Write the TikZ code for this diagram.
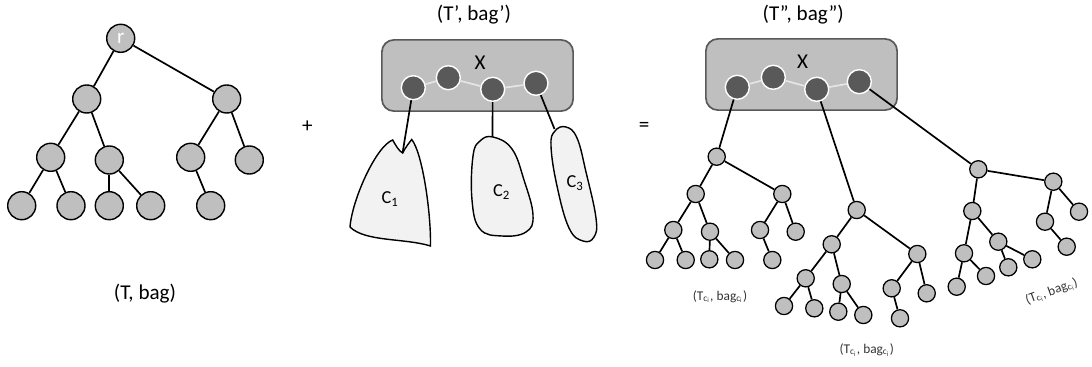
\documentclass[tikz,border=0pt]{standalone}
\usepackage{fontspec}
\setmainfont{Carlito}
\definecolor{nodegray}{HTML}{BFBFBF}
\definecolor{darkfill}{HTML}{595959}
\definecolor{blobfill}{HTML}{F2F2F2}

\begin{document}
\begin{tikzpicture}
        [x=0.025cm,y=-0.025cm,
        bnode/.style={circle,draw,line width=1pt,fill=nodegray,minimum size=0.7cm,inner sep=0pt},
        snode/.style={circle,draw,line width=0.9pt,fill=nodegray,minimum size=0.43cm,inner sep=0pt},
        xnode/.style={circle,draw=white,line width=1pt,fill=darkfill,minimum size=0.6cm,inner sep=0pt},
        bagbox/.style={rectangle,rounded corners=0.3cm,draw=darkfill,line width=1.2pt,fill=nodegray,minimum width=4.78cm,minimum height=1.78cm},
        blob/.style={draw,line width=1pt,fill=blobfill},
        branch/.style={line width=1.2pt},
        link/.style={line width=1.2pt,draw=white!90!black},
        lbl/.style={font=\fontsize{15}{18}\selectfont},
        clbl/.style={font=\fontsize{13}{15}\selectfont},
        slbl/.style={font=\fontsize{9.5}{11}\selectfont,text=black!80}]
        \useasboundingbox (0,0) rectangle (1092,367);

        % (T, bag)
        \node[bnode,text=white,lbl] (l0) at (120.7,38.3) {r};
        \node[bnode] (la1) at (86.7,99) {};
        \node[bnode] (la2) at (226.7,99) {};
        \node[bnode] (lb1) at (50.7,157.3) {};
        \node[bnode] (lb2) at (109.3,160) {};
        \node[bnode] (lb3) at (190.7,157.3) {};
        \node[bnode] (lb4) at (249.3,160) {};
        \node[bnode] (lc1) at (21.7,205.7) {};
        \node[bnode] (lc2) at (71,205.7) {};
        \node[bnode] (lc3) at (109.3,205.7) {};
        \node[bnode] (lc4) at (150.7,205.7) {};
        \node[bnode] (lc5) at (210.7,205.7) {};
        \node[lbl] (tbag) at (145,294) {(T, bag)};

        \node[lbl] (plus) at (307.3,126.7) {+};
        \node[lbl] (equal) at (644,126.7) {=};

        % (T', bag')
        \node[lbl] (tbag1) at (474,15) {(T', bag')};
        \node[bagbox] (box1) at (477.5,75.5) {};
        \node[lbl] (xa) at (480,62.7) {X};
        \node[xnode] (x1) at (413.3,87.7) {};
        \node[xnode] (x2) at (448.3,77.7) {};
        \node[xnode] (x3) at (492.7,89.3) {};
        \node[xnode] (x4) at (536,83.3) {};
        \draw[link] (x1) -- (x2);
        \draw[link] (x2) -- (x3);
        \draw[link] (x3) -- (x4);

        \draw[blob] (402.7,153) .. controls (405,148) and (409,143) .. (411.7,139.5)
            .. controls (422,152) and (431,210) .. (430.5,246)
            .. controls (405,238) and (365,242) .. (350,227)
            .. controls (352,200) and (376,146) .. (392.7,140)
            .. controls (396,146) and (399,151) .. (402.7,153) -- cycle;
        \draw[blob] plot[smooth cycle,tension=0.7] coordinates {(493,137) (512,149) (524,180) (533,215) (526,232) (502,236) (480,229) (472,200) (473,156) (480,141)};
        \draw[blob] plot[smooth cycle,tension=0.7] coordinates {(566,127) (577,138) (586,172) (596,218) (594,237) (583,241) (569,228) (557,186) (551,146) (555,131)};
        \coordinate (k1) at (402.7,152);
        \coordinate (k2) at (492.5,137);
        \coordinate (k3) at (554.5,129);
        \draw[branch] (x1) -- (k1);
        \draw[branch] (x3) -- (k2);
        \draw[branch] (x4) -- (k3);
        \node[clbl] (cl1) at (390,199.3) {C\textsubscript{1}};
        \node[clbl] (cl2) at (501.7,192.3) {C\textsubscript{2}};
        \node[clbl] (cl3) at (575,183.3) {C\textsubscript{3}};

        % (T'', bag'')
        \node[lbl] (tbag2) at (803.3,15) {(T'', bag'')};
        \node[bagbox] (box2) at (801.5,74.5) {};
        \node[lbl] (xb) at (802.7,61.7) {X};
        \node[xnode] (y1) at (737.3,87.3) {};
        \node[xnode] (y2) at (773.3,77.3) {};
        \node[xnode] (y3) at (816.7,89.3) {};
        \node[xnode] (y4) at (859.3,81.7) {};
        \draw[link] (y1) -- (y2);
        \draw[link] (y2) -- (y3);
        \draw[link] (y3) -- (y4);

        \node[snode] (p0) at (716.7,156.7) {};
        \node[snode] (pa1) at (695.7,194) {};
        \node[snode] (pa2) at (782.3,194) {};
        \node[snode] (pb1) at (673.3,230) {};
        \node[snode] (pb2) at (710,231.7) {};
        \node[snode] (pb3) at (760,230) {};
        \node[snode] (pb4) at (795.7,231.7) {};
        \node[snode] (pc1) at (655,260) {};
        \node[snode] (pc2) at (685.7,260) {};
        \node[snode] (pc3) at (709.3,259.3) {};
        \node[snode] (pc4) at (735,260) {};
        \node[snode] (pc5) at (772.3,260) {};

        \node[snode] (q0) at (856.7,210) {};
        \node[snode] (qa1) at (831.7,244.3) {};
        \node[snode] (qa2) at (917.3,254) {};
        \node[snode] (qb1) at (805.7,278.3) {};
        \node[snode] (qb2) at (841.7,284) {};
        \node[snode] (qb3) at (891.7,288.3) {};
        \node[snode] (qb4) at (926.7,293.3) {};
        \node[snode] (qc1) at (784,306) {};
        \node[snode] (qc2) at (814.3,308.3) {};
        \node[snode] (qc3) at (838.3,311.7) {};
        \node[snode] (qc4) at (863.3,315) {};
        \node[snode] (qc5) at (900,318.3) {};

        \node[snode] (s0) at (978.3,169.3) {};
        \node[snode] (sa1) at (972.3,211) {};
        \node[snode] (sa2) at (1053.3,181.7) {};
        \node[snode] (sb1) at (964,253.3) {};
        \node[snode] (sb2) at (998.3,241.7) {};
        \node[snode] (sb3) at (1045,221.7) {};
        \node[snode] (sb4) at (1079,211.7) {};
        \node[snode] (sc1) at (956.7,286.7) {};
        \node[snode] (sc2) at (986,276) {};
        \node[snode] (sc3) at (1008.3,267.3) {};
        \node[snode] (sc4) at (1032.3,259.3) {};
        \node[snode] (sc5) at (1066.7,246.7) {};

        \node[slbl] (tc1) at (720,296.7) {(T\textsubscript{c\textsubscript{i}}, bag\textsubscript{c\textsubscript{i}})};
        \node[slbl] (tc2) at (866.7,350) {(T\textsubscript{c\textsubscript{i}}, bag\textsubscript{c\textsubscript{i}})};
        \node[slbl,rotate=20] (tc3) at (1051.7,291.7) {(T\textsubscript{c\textsubscript{i}}, bag\textsubscript{c\textsubscript{i}})};

        \foreach \t in {l,p,q,s}
            \foreach \from/\to in {0/a1, 0/a2, a1/b1, a1/b2, a2/b3, a2/b4,
            b1/c1, b1/c2, b2/c3, b2/c4, b3/c5}
                \draw[branch] (\t\from) -- (\t\to);

        \foreach \from/\to in {y1/p0, y3/q0, y4/s0}
            \draw[branch] (\from) -- (\to);

      \end{tikzpicture}
\end{document}
